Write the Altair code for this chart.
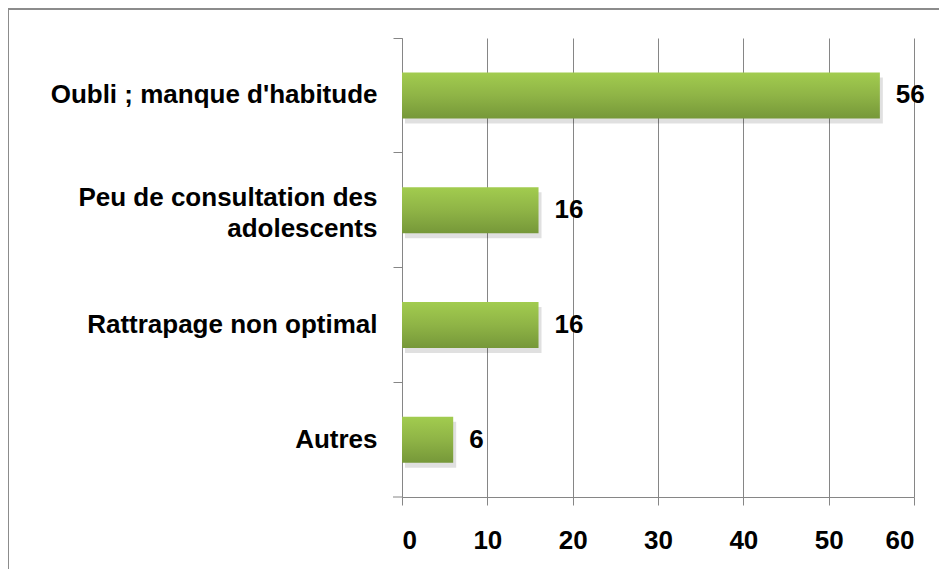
import altair as alt
import pandas as pd

categories = ["Oubli ; manque d'habitude", "Peu de consultation des|adolescents", "Rattrapage non optimal", "Autres"]
values = [56, 16, 16, 6]
x_ticks = [0, 10, 20, 30, 40, 50, 60]

df = pd.DataFrame({"cat": categories, "val": values})

FONT = "Liberation Sans"
FS = 26

y_enc = alt.Y("cat:N", sort=categories, title=None,
              scale=alt.Scale(paddingInner=0, paddingOuter=0),
              axis=alt.Axis(labelExpr="split(datum.label, '|')", labelLineHeight=31,
                            tickSize=9, labelPadding=16, bandPosition=0, labelLimit=0,
                            labelOffset={"condition": {"test": "indexof(datum.value, '|') >= 0", "value": -12}, "value": 0},
                            tickColor="#868686", domainColor="#868686",
                            labelAlign="right", labelBaseline="middle"))
x_enc = alt.X("val:Q", title=None,
              scale=alt.Scale(domain=[0, 60], nice=False),
              axis=alt.Axis(values=x_ticks, tickSize=8, labelPadding=22,
                            grid=True, gridColor="#868686", gridWidth=1,
                            tickColor="#868686", domainColor="#868686"))

base = alt.Chart(df)

shadow = base.mark_bar(size=46, color="#000000", opacity=0.12, xOffset=3, yOffset=5).encode(x=x_enc, y=y_enc)

bars = base.mark_bar(
    size=46,
    color=alt.Gradient(gradient="linear", x1=0, x2=0, y1=0, y2=1,
                       stops=[alt.GradientStop(color="#A2CC4F", offset=0),
                              alt.GradientStop(color="#8FB446", offset=0.5),
                              alt.GradientStop(color="#769839", offset=1)])
).encode(x=x_enc, y=y_enc)

text = base.mark_text(align="left", baseline="middle", dx=16, fontSize=FS,
                      fontWeight="bold", font=FONT, color="#000000").encode(
    x="val:Q", y=alt.Y("cat:N", sort=categories), text="val:Q")

frame_df = pd.DataFrame({"a": [0]})
frame = alt.Chart(frame_df).mark_rect(filled=False, stroke="#8c8c8c", strokeWidth=2, clip=False).encode(
    x=alt.value(-394), x2=alt.value(600), y=alt.value(-29), y2=alt.value(640))
bottom_tick = alt.Chart(frame_df).mark_rule(color="#868686", clip=False).encode(
    x=alt.value(-9), x2=alt.value(0), y=alt.value(459))

chart = alt.layer(frame, shadow, bars, text, bottom_tick).properties(
    width=512, height=459,
    autosize=alt.AutoSizeParams(type="none"),
    padding={"left": 394, "top": 30, "right": 25, "bottom": 72},
).configure_axis(
    labelFont=FONT, labelFontSize=FS, labelFontWeight="bold", labelColor="#000000",
).configure_view(stroke=None)

chart.save("out.html", embed_options={"renderer": "svg", "actions": False})
